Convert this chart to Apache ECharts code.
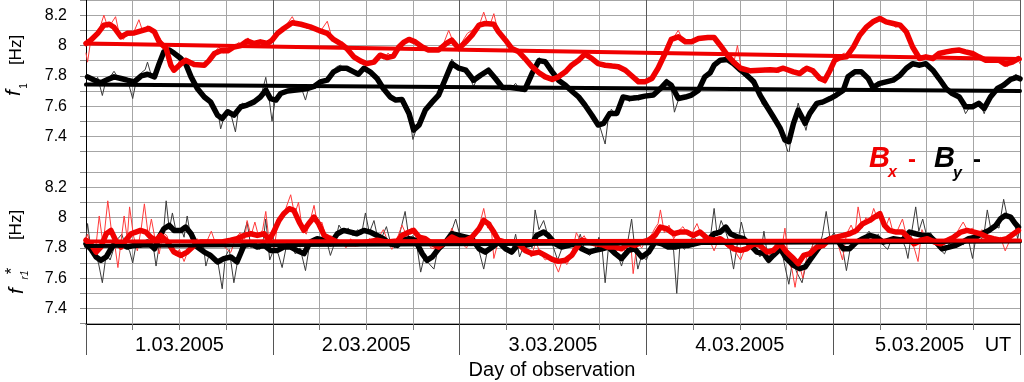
<!DOCTYPE html>
<html><head><meta charset="utf-8">
<script src="https://cdn.jsdelivr.net/npm/echarts@6/dist/echarts.min.js"></script>
<style>html,body{margin:0;padding:0;background:#fff}#c{width:1024px;height:382px}</style>
</head><body><div id="c"></div>
<script>
// time in hours from 1.03.2005 00:00 UT
const dayLabels = ['1.03.2005','2.03.2005','3.03.2005','4.03.2005','5.03.2005'];
const yMin = 7.3, yMax = 8.3;

// ---- upper panel: f1 (smoothed) ----
const topBxSmooth = [[0,8.013],[0.6,8.035],[1.5,8.08],[2.3,8.134],[3,8.14],[3.6,8.12],[4.5,8.057],[5.3,8.08],[6.2,8.083],[7.3,8.10],[8.1,8.112],[8.8,8.09],[9.4,8.024],[10.3,7.98],[10.9,7.87],[11.3,7.837],[12.2,7.88],[12.8,7.903],[13.9,7.875],[15.2,7.87],[15.8,7.90],[16.5,7.947],[17.3,7.965],[18.2,7.965],[19,7.99],[19.9,8.00],[20.7,8.03],[21.6,8.013],[22.4,8.024],[23.3,8.013],[23.9,8.035],[24.6,8.08],[25.4,8.112],[26.5,8.15],[27.6,8.14],[28.8,8.123],[29.9,8.10],[31,8.08],[31.8,8.04],[32.7,8.013],[33.5,7.98],[34.4,7.925],[35.3,7.897],[36.1,7.88],[37,7.89],[37.8,7.936],[38.7,7.92],[39.5,7.93],[40.2,7.99],[40.8,8.02],[41.5,8.04],[42.3,8.024],[43.2,7.99],[44,7.97],[45.3,7.97],[46.2,8.01],[47,8.035],[47.9,7.98],[48.8,8.024],[49.6,8.068],[50.5,8.134],[51.3,8.145],[52.4,8.14],[53,8.09],[53.9,8.035],[54.7,7.98],[55.6,7.958],[56.4,7.914],[57.3,7.86],[58.2,7.82],[59,7.793],[59.9,7.776],[60.7,7.793],[61.6,7.826],[62.4,7.87],[63.3,7.903],[64.1,7.943],[65,7.914],[65.8,7.88],[66.7,7.87],[67.6,7.864],[68.4,7.86],[69.3,7.837],[70.1,7.80],[71,7.76],[71.8,7.76],[72.7,7.782],[73.5,7.85],[74.4,7.947],[75.2,8.04],[76.1,8.057],[77,8.024],[77.8,8.024],[78.7,8.046],[79.9,8.053],[80.7,8.053],[81.5,8.00],[82.4,7.936],[83.2,7.89],[84.1,7.85],[85.4,7.833],[86.6,7.837],[87.9,7.84],[88.8,7.837],[89.6,7.85],[90.9,7.826],[91.7,7.815],[92.6,7.85],[93.4,7.833],[94.3,7.782],[94.9,7.77],[95.6,7.837],[96.2,7.903],[96.9,7.92],[97.7,7.925],[98.6,7.99],[99.4,8.068],[100.3,8.123],[101.1,8.156],[102,8.178],[102.8,8.156],[103.7,8.145],[104.6,8.134],[105.4,8.09],[106.2,7.99],[107.1,7.914],[107.9,7.925],[108.8,7.914],[109.6,7.947],[110.5,7.958],[111.3,7.965],[112.2,7.97],[113,7.958],[113.9,7.947],[114.7,7.925],[115.6,7.903],[116.4,7.903],[117.3,7.903],[118.1,7.877],[119,7.89],[119.8,7.914]];
const topBySmooth = [[0.2,7.793],[1.1,7.771],[1.9,7.754],[2.8,7.776],[3.6,7.793],[4.5,7.782],[5.3,7.771],[6.2,7.76],[7.1,7.80],[7.9,7.81],[8.8,7.793],[9.4,7.88],[10,7.958],[10.7,7.97],[11.3,7.95],[12.2,7.914],[12.8,7.88],[13.5,7.793],[14.3,7.716],[15.2,7.66],[16,7.628],[16.9,7.54],[17.5,7.519],[18.2,7.563],[19,7.54],[19.9,7.596],[20.7,7.607],[21.6,7.628],[22.4,7.66],[23.1,7.705],[23.7,7.65],[24.4,7.64],[25,7.683],[25.9,7.70],[26.7,7.705],[27.6,7.71],[28.4,7.716],[29.3,7.73],[30.1,7.76],[31,7.771],[31.8,7.826],[32.7,7.85],[33.5,7.85],[34.4,7.826],[35,7.81],[35.7,7.85],[36.5,7.826],[37.4,7.782],[38.2,7.716],[39.1,7.66],[39.8,7.64],[40.6,7.644],[41.5,7.552],[42.1,7.442],[42.8,7.475],[43.6,7.574],[44.5,7.628],[45.3,7.673],[46.2,7.782],[47,7.88],[47.9,7.85],[48.8,7.837],[49.8,7.771],[50.7,7.804],[51.7,7.837],[52.6,7.782],[53.5,7.723],[54.5,7.723],[55.6,7.716],[56.4,7.71],[57.3,7.815],[58.2,7.90],[59,7.893],[59.9,7.826],[60.7,7.771],[61.6,7.738],[62.4,7.70],[63.3,7.66],[64.1,7.607],[65,7.54],[65.8,7.475],[66.5,7.486],[67.3,7.552],[68.2,7.552],[69,7.66],[69.9,7.65],[71,7.657],[71.8,7.666],[72.9,7.673],[73.8,7.716],[74.6,7.76],[75.2,7.738],[76.1,7.65],[77,7.66],[77.8,7.673],[78.7,7.705],[79.5,7.793],[80.2,7.82],[80.7,7.87],[81.5,7.903],[82.4,7.908],[83.2,7.88],[84.1,7.837],[84.9,7.804],[85.8,7.76],[86.6,7.673],[87.5,7.596],[88.3,7.53],[89.2,7.453],[89.8,7.376],[90.3,7.365],[90.9,7.486],[91.5,7.574],[92.4,7.486],[93,7.552],[93.9,7.618],[94.7,7.628],[95.6,7.65],[96.4,7.673],[97.3,7.705],[97.9,7.793],[98.8,7.826],[99.6,7.826],[100.5,7.782],[101.1,7.723],[102,7.75],[102.8,7.76],[103.7,7.771],[104.6,7.804],[105.4,7.85],[106.2,7.88],[107.1,7.87],[107.9,7.88],[108.8,7.837],[109.6,7.782],[110.5,7.716],[111.3,7.683],[112.2,7.66],[113,7.596],[113.9,7.596],[114.7,7.618],[115.4,7.585],[116.2,7.66],[117.1,7.716],[117.9,7.738],[118.8,7.776],[119.6,7.789],[120,7.78]];
const topBxRaw = [[0,7.95],[0.2,7.89],[0.6,8.03],[1.2,8.06],[1.8,8.12],[2.3,8.20],[2.8,8.12],[3.3,8.15],[3.8,8.19],[4.3,8.07],[4.8,8.04],[5.4,8.09],[6,8.07],[6.8,8.17],[7.3,8.09],[7.9,8.13],[8.4,8.11],[9,8.08],[9.5,8.05],[10,8.0],[10.5,7.96],[11,7.86],[11.5,7.83],[12,7.9],[12.6,7.91],[13.2,7.89],[13.8,7.87],[14.5,7.88],[15.2,7.86],[15.8,7.91],[16.4,7.95],[17.1,7.99],[17.7,7.95],[18.4,7.98],[19,7.99],[19.6,8.02],[20.3,8.0],[20.8,8.05],[21.4,8.01],[22,8.03],[22.6,8.01],[23.3,8.02],[23.9,8.04],[24.6,8.10],[25.2,8.11],[25.8,8.14],[26.5,8.19],[27.1,8.13],[27.8,8.15],[28.4,8.11],[29,8.13],[29.6,8.09],[30.2,8.10],[31,8.16],[31.6,8.05],[32.3,8.03],[33,8.00],[33.6,7.97],[34.3,7.93],[35,7.9],[35.6,7.89],[36.3,7.87],[37,7.9],[37.6,7.93],[38.3,7.91],[38.8,7.95],[39.4,7.92],[40.2,7.99],[40.8,8.02],[41.5,8.05],[42.2,8.03],[42.8,7.99],[43.5,7.97],[44.2,7.96],[44.8,7.98],[45.4,7.96],[46,8.02],[46.6,8.1],[47.2,8.02],[47.8,7.97],[48.4,8.03],[49,8.08],[49.6,8.1],[50.2,8.12],[50.7,8.16],[51.1,8.22],[51.6,8.14],[52,8.15],[52.4,8.21],[52.9,8.1],[53.5,8.07],[54,8.03],[54.6,7.99],[55.2,7.96],[55.8,7.95],[56.4,7.9],[57,7.87],[57.6,7.83],[58.2,7.82],[58.8,7.8],[59.4,7.78],[60,7.77],[60.6,7.8],[61.2,7.82],[61.8,7.84],[62.4,7.88],[63,7.9],[63.6,7.92],[64.2,7.95],[64.8,7.92],[65.4,7.89],[66,7.88],[66.6,7.86],[67.2,7.87],[67.8,7.85],[68.4,7.86],[69,7.84],[69.6,7.81],[70.2,7.79],[70.8,7.75],[71.4,7.77],[72,7.75],[72.6,7.79],[73.2,7.83],[73.8,7.9],[74.4,7.96],[75,8.02],[75.6,8.06],[76.1,8.1],[76.7,8.03],[77.3,8.02],[77.9,8.03],[78.5,8.05],[79.1,8.04],[79.7,8.06],[80.3,8.05],[80.9,8.04],[81.5,7.99],[82,7.94],[82.6,7.93],[83.2,7.88],[83.7,8.0],[84.2,7.84],[84.8,7.83],[85.4,7.82],[86,7.84],[86.6,7.83],[87.2,7.85],[87.8,7.83],[88.4,7.84],[89,7.82],[89.6,7.86],[90.2,7.83],[90.8,7.82],[91.4,7.81],[92,7.85],[92.6,7.86],[93.2,7.83],[93.8,7.79],[94.4,7.77],[95,7.75],[95.6,7.83],[96.2,7.9],[96.8,7.93],[97.4,7.95],[98,7.93],[98.6,7.99],[99.2,8.06],[99.8,8.1],[100.4,8.12],[101,8.16],[101.6,8.17],[102.2,8.18],[102.8,8.15],[103.4,8.15],[104,8.12],[104.6,8.13],[105.2,8.1],[105.8,8.02],[106.4,7.97],[107,7.93],[107.6,7.91],[108.2,7.93],[108.8,7.9],[109.4,7.94],[110,7.95],[110.6,7.96],[111.2,7.97],[111.8,7.96],[112.4,7.98],[113,7.95],[113.6,7.94],[114.2,7.93],[114.8,7.92],[115.4,7.9],[116,7.91],[116.6,7.89],[117.2,7.91],[117.8,7.88],[118.4,7.86],[119,7.9],[119.6,7.92],[120,7.88]];
const topByRaw = [[0,7.80],[0.5,7.78],[1,7.76],[1.5,7.79],[2.1,7.67],[2.6,7.78],[3.2,7.80],[3.6,7.83],[4.2,7.78],[4.8,7.79],[5.4,7.76],[6,7.65],[6.5,7.78],[7.1,7.82],[7.6,7.84],[7.9,7.89],[8.4,7.80],[9,7.79],[9.5,7.86],[10,7.98],[10.5,7.96],[11,7.97],[11.6,7.93],[12.2,7.90],[12.8,7.87],[13.4,7.80],[14,7.74],[14.6,7.69],[15.2,7.67],[15.8,7.62],[16.4,7.59],[17,7.55],[17.3,7.45],[17.7,7.52],[18.2,7.57],[18.7,7.53],[19.2,7.43],[19.6,7.58],[20.1,7.62],[20.7,7.60],[21.3,7.63],[21.9,7.65],[22.5,7.67],[23.1,7.79],[23.5,7.66],[23.9,7.50],[24.3,7.64],[24.8,7.66],[25.4,7.69],[26,7.71],[26.6,7.69],[27.2,7.72],[27.8,7.70],[28.2,7.64],[28.6,7.72],[29.2,7.73],[29.8,7.76],[30.4,7.77],[31,7.78],[31.6,7.82],[32.2,7.86],[32.7,7.87],[33.3,7.84],[33.9,7.85],[34.5,7.82],[35,7.81],[35.6,7.85],[36.2,7.83],[36.8,7.81],[37.4,7.77],[38,7.73],[38.6,7.69],[39.2,7.66],[39.8,7.64],[40.4,7.65],[41,7.60],[41.5,7.55],[42,7.38],[42.5,7.46],[43,7.49],[43.6,7.57],[44.2,7.61],[44.8,7.64],[45.3,7.68],[45.9,7.74],[46.5,7.82],[47,7.91],[47.5,7.87],[48,7.85],[48.6,7.84],[49.2,7.80],[49.8,7.73],[50.4,7.80],[51,7.82],[51.6,7.84],[52.2,7.80],[52.8,7.76],[53.4,7.72],[54,7.73],[54.6,7.72],[55.2,7.75],[55.8,7.70],[56.4,7.70],[57,7.78],[57.6,7.86],[58.2,7.92],[58.8,7.89],[59.4,7.86],[60,7.81],[60.6,7.77],[61.2,7.74],[61.8,7.72],[62.4,7.68],[63,7.66],[63.6,7.63],[64.2,7.60],[64.8,7.55],[65.4,7.50],[66,7.47],[66.7,7.35],[67.1,7.52],[67.5,7.58],[68,7.54],[68.6,7.60],[69.2,7.67],[69.8,7.63],[70.4,7.67],[71,7.64],[71.6,7.67],[72.2,7.68],[72.8,7.66],[73.4,7.70],[74,7.73],[74.6,7.78],[75.2,7.72],[75.6,7.56],[76.1,7.64],[76.7,7.67],[77.3,7.66],[77.9,7.69],[78.5,7.70],[79.1,7.76],[79.7,7.81],[80.3,7.83],[80.9,7.87],[81.5,7.91],[82.1,7.90],[82.7,7.93],[83.3,7.87],[83.9,7.84],[84.5,7.80],[85.1,7.78],[85.7,7.74],[86.3,7.69],[86.9,7.61],[87.5,7.58],[88.1,7.54],[88.7,7.49],[89.3,7.43],[89.8,7.36],[90.3,7.28],[90.6,7.40],[91,7.50],[91.5,7.62],[92,7.53],[92.5,7.44],[93,7.56],[93.5,7.60],[94,7.63],[94.6,7.61],[95.2,7.64],[95.8,7.66],[96.4,7.68],[97,7.69],[97.6,7.75],[98.2,7.82],[98.8,7.84],[99.4,7.82],[100,7.80],[100.6,7.75],[101.1,7.71],[101.7,7.76],[102.3,7.74],[102.9,7.77],[103.5,7.76],[104.1,7.79],[104.7,7.81],[105.3,7.86],[105.9,7.88],[106.5,7.86],[107.1,7.88],[107.7,7.87],[108.3,7.85],[108.9,7.82],[109.5,7.78],[110.1,7.74],[110.7,7.70],[111.3,7.68],[111.9,7.66],[112.5,7.62],[113,7.55],[113.6,7.60],[114.2,7.59],[114.8,7.63],[115.4,7.55],[115.9,7.63],[116.5,7.70],[117.1,7.72],[117.7,7.75],[118.3,7.76],[118.9,7.79],[119.5,7.81],[120,7.78]];
const topBxTrend = [[0,8.013],[120,7.91]];
const topByTrend = [[0,7.742],[120,7.70]];

// ---- lower panel: f*r1 (smoothed) ----
const botBxSmooth = [[0,7.85],[0.6,7.827],[1.3,7.772],[1.9,7.805],[2.6,7.893],[3.2,7.915],[3.8,7.85],[4.5,7.805],[5.1,7.85],[5.8,7.893],[6.4,7.904],[7,7.915],[7.7,7.904],[8.3,7.871],[9,7.85],[9.6,7.882],[10.5,7.838],[11.3,7.772],[12.2,7.75],[13,7.772],[13.9,7.816],[14.7,7.838],[16,7.838],[17.3,7.838],[18.6,7.85],[19.4,7.86],[20.3,7.882],[21.2,7.893],[22,7.882],[22.9,7.893],[23.5,7.85],[24.1,7.904],[24.8,7.981],[25.4,8.025],[26.1,8.058],[26.7,8.047],[27.4,7.97],[28,7.915],[28.6,7.959],[29.3,8.003],[29.9,7.959],[30.6,7.882],[31.4,7.86],[32.3,7.838],[33.5,7.827],[34.8,7.827],[36.1,7.838],[37.4,7.85],[38.7,7.838],[40,7.845],[40.6,7.882],[41.5,7.904],[42.1,7.915],[42.8,7.871],[43.6,7.86],[44.5,7.827],[45.3,7.805],[46.2,7.838],[47,7.871],[47.9,7.85],[48.8,7.85],[49.6,7.871],[50.5,7.926],[51.1,7.981],[51.7,7.959],[52.4,7.904],[53,7.85],[53.9,7.838],[54.7,7.838],[55.6,7.827],[56.4,7.783],[57.3,7.762],[58.2,7.772],[59,7.75],[59.9,7.724],[60.7,7.711],[61.6,7.718],[62.4,7.75],[63.1,7.805],[63.7,7.85],[64.6,7.838],[65.4,7.827],[66.3,7.821],[67.1,7.805],[68,7.805],[68.8,7.794],[69.7,7.827],[70.5,7.816],[71.4,7.838],[72.3,7.85],[73.1,7.882],[73.8,7.937],[74.6,7.926],[75.5,7.893],[76.3,7.904],[77.2,7.904],[78,7.882],[78.9,7.904],[79.9,7.86],[80.7,7.85],[81.5,7.86],[82.4,7.827],[83.2,7.794],[84.1,7.783],[84.9,7.794],[85.8,7.827],[86.6,7.816],[87.5,7.772],[88.3,7.783],[89.2,7.827],[90,7.772],[90.9,7.729],[91.5,7.696],[92.2,7.75],[93,7.762],[93.9,7.805],[94.7,7.816],[95.6,7.86],[96.4,7.871],[97.3,7.882],[98.1,7.893],[99,7.915],[99.8,7.959],[100.7,7.981],[101.3,8.003],[102,8.025],[102.6,7.948],[103.2,7.915],[104.1,7.904],[104.9,7.904],[105.8,7.86],[106.4,7.827],[107.3,7.85],[108.1,7.86],[109,7.838],[109.8,7.827],[110.7,7.85],[111.5,7.871],[112.4,7.904],[113.2,7.915],[114.1,7.904],[114.9,7.893],[115.8,7.871],[116.6,7.86],[117.5,7.85],[118.3,7.86],[119.2,7.893],[119.8,7.915]];
const botBySmooth = [[0,7.827],[0.6,7.794],[1.3,7.74],[1.9,7.718],[2.6,7.74],[3.2,7.794],[3.8,7.838],[4.5,7.827],[5.3,7.805],[6.2,7.816],[7.1,7.821],[7.9,7.838],[8.8,7.794],[9.4,7.871],[10,7.926],[10.7,7.948],[11.3,7.915],[12.2,7.915],[12.8,7.937],[13.5,7.893],[14.3,7.805],[15.2,7.772],[16,7.75],[16.9,7.707],[17.7,7.729],[18.6,7.74],[19.4,7.707],[20.3,7.816],[21.2,7.827],[22,7.805],[22.9,7.816],[23.7,7.783],[24.6,7.783],[25.4,7.805],[26.3,7.805],[27.1,7.783],[28,7.762],[28.8,7.838],[29.7,7.86],[30.6,7.85],[31.4,7.827],[32.3,7.893],[33.1,7.915],[34,7.904],[34.8,7.893],[35.7,7.915],[36.5,7.904],[37.4,7.882],[38.2,7.86],[39.1,7.827],[40,7.816],[40.6,7.85],[41.5,7.86],[42.3,7.85],[43.2,7.762],[43.8,7.718],[44.5,7.74],[45.3,7.794],[46.2,7.838],[47,7.893],[47.9,7.882],[48.8,7.871],[49.6,7.86],[50.5,7.794],[51.3,7.772],[52.2,7.805],[53,7.838],[53.9,7.794],[54.7,7.772],[55.6,7.827],[56.4,7.816],[57.3,7.827],[57.9,7.882],[58.8,7.904],[59.4,7.882],[60.3,7.827],[61.1,7.805],[62,7.816],[62.9,7.827],[63.7,7.794],[64.6,7.772],[65.4,7.783],[66.3,7.794],[67.1,7.805],[68,7.762],[68.8,7.729],[69.7,7.783],[70.5,7.794],[71.4,7.74],[72.3,7.772],[73.1,7.838],[74,7.827],[74.8,7.805],[75.7,7.805],[76.5,7.816],[77.4,7.816],[78.2,7.827],[79.1,7.838],[79.9,7.85],[80.7,7.893],[81.5,7.904],[82.2,7.937],[82.8,7.893],[83.7,7.871],[84.5,7.86],[85.4,7.816],[86.2,7.772],[87.1,7.762],[87.7,7.718],[88.3,7.75],[89.2,7.794],[90,7.729],[90.9,7.685],[91.7,7.663],[92.4,7.674],[93,7.718],[93.9,7.783],[94.7,7.838],[95.6,7.86],[96.4,7.86],[97.3,7.794],[98.1,7.794],[99,7.838],[99.8,7.86],[100.7,7.882],[101.5,7.871],[102.4,7.838],[103.7,7.86],[104.9,7.85],[105.8,7.904],[106.6,7.893],[107.5,7.882],[108.3,7.882],[109.2,7.838],[110,7.794],[110.9,7.805],[111.7,7.816],[112.6,7.838],[113.4,7.86],[114.3,7.871],[115.1,7.893],[116,7.915],[116.9,7.948],[117.5,7.992],[118.1,8.014],[118.8,8.003],[119.4,7.959],[119.8,7.937]];
const botBxRaw = [[0,7.86],[0.2,7.89],[0.7,7.80],[1.1,7.73],[1.7,8.01],[2.2,7.82],[2.8,8.11],[3.3,7.90],[3.7,7.82],[4.1,7.67],[4.5,7.84],[4.9,8.01],[5.3,7.86],[5.6,8.07],[6.1,7.88],[6.6,7.78],[7.1,7.93],[7.5,8.09],[8,7.88],[8.4,7.99],[8.9,7.85],[9.4,7.76],[9.9,7.90],[10.4,7.88],[10.9,7.80],[11.5,7.75],[12,7.79],[12.6,7.71],[13.1,7.78],[13.7,7.82],[14.3,7.86],[14.9,7.80],[15.5,7.84],[16.1,7.91],[16.7,7.82],[17.3,7.85],[17.9,7.80],[18.6,7.77],[19.2,7.86],[19.8,7.90],[20.4,7.86],[20.7,7.98],[21.2,7.88],[21.7,7.97],[22.2,7.87],[22.7,7.92],[23.1,8.04],[23.6,7.81],[24.1,7.77],[24.6,7.95],[25.1,8.00],[25.6,8.05],[26.3,8.15],[26.8,8.02],[27.3,8.10],[27.8,7.92],[28.3,7.89],[28.8,7.98],[29.3,8.08],[29.8,7.94],[30.3,7.97],[30.9,7.86],[31.5,7.88],[32.1,7.82],[32.8,7.85],[33.4,7.80],[34,7.86],[34.6,7.81],[35.2,7.85],[35.8,7.82],[36.4,7.86],[37,7.83],[37.6,7.87],[38.2,7.92],[38.8,7.84],[39.3,7.79],[39.9,7.85],[40.6,7.95],[41.2,7.88],[41.8,7.93],[42.4,7.92],[43.1,7.85],[43.6,7.87],[44.3,7.80],[45,7.79],[45.7,7.84],[46.3,7.82],[47,7.93],[47.6,7.86],[48.2,7.83],[48.9,7.80],[49.5,7.87],[50.1,7.90],[50.6,7.96],[51.1,8.06],[51.6,7.93],[52,7.97],[52.4,7.73],[53,7.85],[53.6,7.84],[54.2,7.82],[54.8,7.85],[55.4,7.81],[56,7.79],[56.6,7.80],[57.2,7.74],[57.8,7.84],[58.4,7.76],[59,7.72],[59.6,7.74],[60.2,7.70],[60.7,7.64],[61.2,7.72],[61.8,7.69],[62.4,7.76],[63,7.90],[63.5,7.85],[64,7.88],[64.6,7.82],[65.2,7.85],[65.8,7.80],[66.4,7.84],[67,7.80],[67.6,7.83],[68.2,7.78],[68.8,7.81],[69.4,7.77],[70,7.82],[70.3,7.63],[70.8,7.83],[71.4,7.80],[72,7.86],[72.6,7.88],[73.1,7.93],[73.5,7.96],[73.8,8.05],[74.3,7.90],[74.9,7.95],[75.5,7.86],[76.1,7.91],[76.7,7.94],[77.3,7.89],[77.9,7.90],[78.5,7.96],[79.1,7.88],[79.7,7.86],[80.2,7.84],[80.7,7.78],[81.3,7.86],[81.9,7.83],[82.5,7.80],[83.1,7.82],[83.6,7.76],[84.1,7.72],[84.7,7.80],[85.3,7.84],[85.9,7.81],[86.5,7.83],[87.1,7.79],[87.6,7.74],[88.2,7.78],[88.8,7.85],[89.4,7.80],[89.8,7.93],[90.3,7.70],[90.7,7.66],[91.1,7.54],[91.6,7.70],[92.1,7.60],[92.6,7.74],[93.1,7.79],[93.6,7.84],[94.2,7.83],[94.8,7.80],[95.4,7.86],[96,7.88],[96.6,7.83],[97.2,7.72],[97.7,7.89],[98.3,7.95],[98.8,7.89],[99.2,8.07],[99.7,7.93],[100.2,8.00],[100.7,7.97],[101.2,8.06],[101.7,7.99],[102.2,8.02],[102.7,7.93],[103.2,8.00],[103.7,7.90],[104.3,7.92],[104.9,7.99],[105.4,7.88],[105.9,7.84],[106.4,7.80],[106.9,7.71],[107.4,7.92],[107.9,7.86],[108.5,7.83],[109.1,7.86],[109.7,7.82],[110.3,7.85],[110.9,7.87],[111.5,7.85],[112.1,7.92],[112.7,7.97],[113.3,7.91],[113.9,7.93],[114.5,7.88],[115.1,7.92],[115.7,7.86],[116.3,7.88],[116.9,7.84],[117.5,7.87],[118.1,7.78],[118.7,7.85],[119.3,7.90],[120,7.93]];
const botByRaw = [[0,7.86],[0.2,7.96],[0.6,7.80],[1.1,7.77],[1.6,7.70],[2.1,7.57],[2.6,7.76],[3.1,7.72],[3.6,7.80],[4.1,7.86],[4.6,7.89],[5.1,7.81],[5.6,7.78],[6,7.70],[6.5,7.84],[7,7.80],[7.6,7.85],[8.2,7.82],[8.7,7.79],[9,7.68],[9.5,7.85],[10,7.93],[10.3,8.11],[10.7,7.92],[11.1,8.03],[11.6,7.90],[12.2,7.93],[12.6,7.87],[13,8.01],[13.5,7.86],[14,7.83],[14.6,7.78],[15.1,7.81],[15.4,7.68],[15.9,7.77],[16.4,7.73],[16.9,7.72],[17.5,7.53],[17.9,7.74],[18.4,7.79],[19,7.57],[19.5,7.72],[20,7.84],[20.7,7.97],[21.2,7.80],[21.7,7.85],[22.3,7.79],[22.8,7.86],[23.1,7.99],[23.6,7.72],[24.2,7.80],[24.7,7.76],[25.2,7.67],[25.7,7.80],[26.3,7.82],[26.9,7.76],[27.5,7.80],[28.2,7.65],[28.6,7.78],[29.1,7.86],[29.7,7.87],[30.2,7.83],[30.8,7.87],[31.4,7.75],[32,7.84],[32.5,7.95],[33.1,7.90],[33.7,7.93],[34.3,7.88],[34.9,7.92],[35.4,7.89],[35.9,8.03],[36.4,7.90],[37,7.98],[37.5,7.86],[38.1,7.88],[38.6,7.94],[39.2,7.82],[39.7,7.80],[40.2,7.87],[41,8.04],[41.5,7.86],[42,7.88],[42.5,7.82],[43,7.64],[43.5,7.75],[44,7.70],[44.7,7.66],[45.2,7.79],[45.7,7.82],[46.3,7.86],[46.9,7.90],[47.5,7.99],[48.1,7.87],[48.7,7.86],[49.3,7.88],[49.9,7.84],[50.5,7.78],[51.1,7.66],[51.6,7.79],[52.2,7.82],[52.8,7.86],[53.4,7.80],[54,7.78],[54.6,7.76],[55.2,7.89],[55.7,7.74],[56.3,7.82],[56.9,7.84],[57.3,7.80],[57.7,8.05],[58.2,7.92],[58.8,7.98],[59.4,7.87],[60,7.81],[60.6,7.72],[61.1,7.79],[61.7,7.82],[62.3,7.85],[62.9,7.79],[63.5,7.89],[64.1,7.78],[64.7,7.75],[65.3,7.78],[65.9,7.87],[66.3,7.80],[66.7,7.57],[67.1,7.79],[67.7,7.82],[68.3,7.76],[68.8,7.68],[69.4,7.78],[70.1,7.99],[70.5,7.80],[70.9,7.66],[71.4,7.75],[72,7.72],[72.6,7.80],[73.2,7.86],[73.8,7.82],[74.4,7.80],[75,7.84],[75.5,7.78],[75.9,7.50],[76.3,7.82],[76.9,7.79],[77.5,7.85],[78.1,7.87],[78.7,7.84],[79.3,7.86],[79.9,7.83],[80.3,7.90],[80.7,8.06],[81.1,7.88],[81.6,7.98],[82.1,7.92],[82.6,7.84],[83.2,7.66],[83.7,7.83],[84.2,7.97],[84.8,7.84],[85.4,7.80],[86,7.79],[86.6,7.74],[87.1,7.91],[87.7,7.70],[88.3,7.76],[88.9,7.81],[89.5,7.75],[90.3,7.56],[90.8,7.72],[91.3,7.64],[92,7.57],[92.5,7.69],[93,7.74],[93.5,7.85],[94.1,7.80],[94.6,7.88],[95.1,8.04],[95.6,7.86],[96.1,7.90],[96.7,7.84],[97.2,7.80],[97.7,7.65],[98.2,7.80],[98.8,7.85],[99.4,7.83],[100,7.87],[100.6,7.91],[101.2,7.86],[101.8,7.89],[102.4,7.82],[103,7.79],[103.6,7.87],[104.2,7.83],[104.8,7.86],[105.3,7.80],[105.6,7.73],[106.1,7.91],[106.6,8.07],[107,7.91],[107.5,7.99],[108,7.88],[108.5,7.90],[109.1,7.85],[109.7,7.79],[110.3,7.76],[110.9,7.83],[111.5,7.80],[112.1,7.84],[112.7,7.82],[113.3,7.87],[113.9,7.73],[114.4,7.89],[114.9,7.84],[115.4,7.90],[115.8,8.05],[116.3,7.91],[116.8,7.95],[117.3,7.93],[117.9,8.12],[118.3,8.02],[118.8,7.98],[119.3,7.96],[119.7,7.86],[120,7.93]];
const botBxTrend = [[0,7.842],[120,7.848]];
const botByTrend = [[0,7.812],[120,7.842]];

const FONT = '"Liberation Sans", Arial, sans-serif';
const RED = '#f00000';
const chart = echarts.init(document.getElementById('c'), null, {renderer: 'canvas'});

function yLabel(v) {
  const r = Math.round(v * 10);
  if (r % 2 !== 0 || r < 74 || r > 82) return '';
  return String(r / 10);
}
function dayLabel(v) {
  if (v % 24 !== 12) return '';
  const i = (v - 12) / 24;
  return i === dayLabels.length - 1 ? '{last|' + dayLabels[i] + '}' : dayLabels[i];
}
function hiddenX(gi) {
  return {type: 'value', gridIndex: gi, min: 0, max: 120, show: false, position: 'bottom'};
}
function panelY(gi) {
  return {
    type: 'value', gridIndex: gi, min: yMin, max: yMax, interval: 0.1, position: 'left',
    axisLine: {show: false},
    axisTick: {show: true, length: 6, lineStyle: {color: '#8a8a8a'}},
    axisLabel: {formatter: yLabel, fontSize: 16, color: '#000', fontFamily: FONT, margin: 19},
    splitLine: {show: true, lineStyle: {color: '#a6a6a6', width: 1}}
  };
}
function line(xi, yi, data, color, width, z) {
  return {type: 'line', xAxisIndex: xi, yAxisIndex: yi, data: data, showSymbol: false,
    symbol: 'none', lineStyle: {color: color, width: width, join: 'round', cap: 'round'},
    z: z, silent: true, clip: true};
}

const option = {
  animation: false,
  backgroundColor: '#fff',
  grid: [
    {left: 86, width: 934, top: 0, height: 324},
    {left: 86, width: 934, top: 0, height: 151.6},
    {left: 86, width: 934, top: 172, height: 151.7}
  ],
  xAxis: [
    {type: 'value', gridIndex: 0, min: 0, max: 120, interval: 6, position: 'bottom',
      axisLine: {show: true, lineStyle: {color: '#000', width: 1}},
      axisTick: {show: true, length: 6, lineStyle: {color: '#777'}},
      axisLabel: {show: false},
      splitLine: {show: true, lineStyle: {color: '#a6a6a6', width: 1}}},
    {type: 'value', gridIndex: 0, min: 0, max: 120, interval: 24, position: 'bottom',
      axisLine: {show: false},
      axisTick: {show: true, length: 31, lineStyle: {color: '#555'}},
      axisLabel: {show: false},
      splitLine: {show: true, lineStyle: {color: '#5a5a5a', width: 1}}},
    {type: 'value', gridIndex: 0, min: 0, max: 120, interval: 12, position: 'bottom',
      axisLine: {show: false}, axisTick: {show: false}, splitLine: {show: false},
      axisLabel: {show: true, margin: 11, fontSize: 20, color: '#000', fontFamily: FONT,
        formatter: dayLabel,
        rich: {last: {fontSize: 20, fontFamily: FONT, color: '#000', padding: [0, 14, 0, 0]}}}},
    hiddenX(1), hiddenX(2)
  ],
  yAxis: [
    {type: 'value', gridIndex: 0, min: 0, max: 1, position: 'left',
      axisLine: {show: true, lineStyle: {color: '#000', width: 1}},
      axisTick: {show: false}, axisLabel: {show: false}, splitLine: {show: false}},
    panelY(1), panelY(2)
  ],
  series: [
    line(3, 1, topByRaw, '#3a3a3a', 1, 2),
    line(3, 1, topBxRaw, '#ff3a3a', 1, 3),
    line(3, 1, topBySmooth, '#000', 5.5, 4),
    line(3, 1, topBxSmooth, RED, 5.5, 5),
    line(3, 1, topByTrend, '#000', 4, 6),
    line(3, 1, topBxTrend, RED, 4, 7),
    line(4, 2, botByRaw, '#3a3a3a', 1, 2),
    line(4, 2, botBxRaw, '#ff3a3a', 1, 3),
    line(4, 2, botBySmooth, '#000', 5.5, 4),
    line(4, 2, botBxSmooth, RED, 5.5, 5),
    line(4, 2, botByTrend, '#000', 4, 6),
    line(4, 2, botBxTrend, RED, 4, 7)
  ],
  graphic: [
    // upper axis title: f1 [Hz]
    {type: 'text', x: 16, y: 50, rotation: Math.PI / 2, style: {text: '[Hz]', font: '17px ' + FONT, fill: '#000', textAlign: 'center', textVerticalAlign: 'middle'}},
    {type: 'text', x: 14, y: 93, rotation: Math.PI / 2, style: {text: 'f', font: 'italic 21px ' + FONT, fill: '#000', textAlign: 'center', textVerticalAlign: 'middle'}},
    {type: 'text', x: 24, y: 86, rotation: Math.PI / 2, style: {text: '1', font: '10px ' + FONT, fill: '#000', textAlign: 'center', textVerticalAlign: 'middle'}},
    // lower axis title: f*r1 [Hz]
    {type: 'text', x: 16, y: 225, rotation: Math.PI / 2, style: {text: '[Hz]', font: '17px ' + FONT, fill: '#000', textAlign: 'center', textVerticalAlign: 'middle'}},
    {type: 'text', x: 17, y: 291, rotation: Math.PI / 2, style: {text: 'f', font: 'italic 21px ' + FONT, fill: '#000', textAlign: 'center', textVerticalAlign: 'middle'}},
    {type: 'text', x: 12, y: 271, rotation: Math.PI / 2, style: {text: '*', font: '17px ' + FONT, fill: '#000', textAlign: 'center', textVerticalAlign: 'middle'}},
    {type: 'text', x: 25, y: 275, rotation: Math.PI / 2, style: {text: 'r1', font: 'italic 10px ' + FONT, fill: '#000', textAlign: 'center', textVerticalAlign: 'middle'}},
    // legend
    {type: 'text', x: 869, y: 159, style: {text: 'B', font: 'italic bold 29px ' + FONT, fill: RED, textAlign: 'left', textVerticalAlign: 'middle'}, z: 20},
    {type: 'text', x: 888, y: 173, style: {text: 'x', font: 'italic bold 16px ' + FONT, fill: RED, textAlign: 'left', textVerticalAlign: 'middle'}, z: 20},
    {type: 'text', x: 908, y: 160, style: {text: '-', font: 'bold 24px ' + FONT, fill: RED, textAlign: 'left', textVerticalAlign: 'middle'}, z: 20},
    {type: 'text', x: 934, y: 159, style: {text: 'B', font: 'italic bold 29px ' + FONT, fill: '#000', textAlign: 'left', textVerticalAlign: 'middle'}, z: 20},
    {type: 'text', x: 953, y: 174, style: {text: 'y', font: 'italic bold 16px ' + FONT, fill: '#000', textAlign: 'left', textVerticalAlign: 'middle'}, z: 20},
    {type: 'text', x: 973, y: 160, style: {text: '-', font: 'bold 24px ' + FONT, fill: '#000', textAlign: 'left', textVerticalAlign: 'middle'}, z: 20},
    // x axis extras
    {type: 'text', x: 998, y: 345, style: {text: 'UT', font: '20px ' + FONT, fill: '#000', textAlign: 'center', textVerticalAlign: 'middle'}},
    {type: 'text', x: 552, y: 370, style: {text: 'Day of observation', font: '20px ' + FONT, fill: '#000', textAlign: 'center', textVerticalAlign: 'middle'}}
  ]
};
chart.setOption(option);
</script></body></html>
